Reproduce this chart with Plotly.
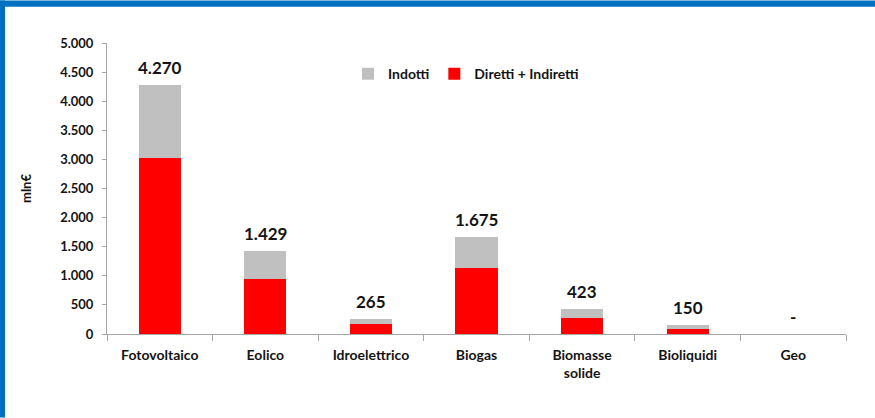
import plotly.graph_objects as go

# Occupazione per fonte rinnovabile (mln€)
categorie = ["Fotovoltaico", "Eolico", "Idroelettrico", "Biogas", "Biomasse<br>solide", "Bioliquidi", "Geo"]
diretti_indiretti = [3020, 945, 165, 1130, 280, 90, 0]
totali = [4270, 1429, 265, 1675, 423, 150, 0]
indotti = [t - d for t, d in zip(totali, diretti_indiretti)]
etichette = ["4.270", "1.429", "265", "1.675", "423", "150", "-"]
tick_valori = [0, 500, 1000, 1500, 2000, 2500, 3000, 3500, 4000, 4500, 5000]
tick_testi = ["0", "500", "1.000", "1.500", "2.000", "2.500", "3.000", "3.500", "4.000", "4.500", "5.000"]

FONT = "Lato"
TXT = "#141414"

fig = go.Figure()
fig.add_trace(go.Bar(x=categorie, y=diretti_indiretti, name="Diretti + Indiretti",
                     marker=dict(color="#ff0000", line=dict(width=0)), width=0.4))
fig.add_trace(go.Bar(x=categorie, y=indotti, name="Indotti",
                     marker=dict(color="#c0c0c0", line=dict(width=0)), width=0.4))

# Total labels above each stacked bar
annotations = [
    dict(x=c, y=t, text=e, xref="x", yref="y", showarrow=False,
         yanchor="bottom", yshift=5,
         font=dict(family=FONT, size=17, color=TXT, weight="bold"))
    for c, t, e in zip(categorie, totali, etichette)
]

# Pixel geometry of the plot area (left/right/top/bottom)
L, R, T, B = 107, 846, 42.7, 334.3
W, H = R - L, B - T

def px_x(x):
    return (x - L) / W

def px_y(y):
    return (B - y) / H

shapes = [
    dict(type="rect", xref="paper", yref="paper", x0=px_x(0), x1=px_x(5), y0=px_y(418), y1=px_y(0),
         fillcolor="#0070c0", line=dict(width=0), layer="above"),
    dict(type="rect", xref="paper", yref="paper", x0=px_x(0), x1=px_x(875), y0=px_y(6.5), y1=px_y(0),
         fillcolor="#0070c0", line=dict(width=0), layer="above"),
]

fig.update_layout(
    width=875, height=418,
    margin=dict(l=L, r=875 - R, t=T, b=418 - B),
    paper_bgcolor="white", plot_bgcolor="white",
    barmode="stack",
    bargap=0.6,
    font=dict(family=FONT, size=12, color=TXT),
    shapes=shapes,
    annotations=annotations,
    legend=dict(orientation="h", traceorder="reversed", x=px_x(348), y=px_y(74),
                xanchor="left", yanchor="middle",
                font=dict(family=FONT, size=14, color=TXT, weight="bold"),
                itemwidth=30, bgcolor="rgba(0,0,0,0)"),
    xaxis=dict(showline=True, linecolor="#a6a6a6", linewidth=1,
               ticks="outside", tickson="boundaries", ticklen=6, tickcolor="#a6a6a6",
               ticklabelstandoff=8,
               tickfont=dict(family=FONT, size=14, color=TXT, weight="bold"),
               showgrid=False, fixedrange=True),
    yaxis=dict(range=[0, 5000], tickvals=tick_valori, ticktext=tick_testi,
               showline=True, linecolor="#a6a6a6", linewidth=1,
               ticks="outside", ticklen=4, tickcolor="#a6a6a6",
               ticklabelstandoff=6,
               tickfont=dict(family=FONT, size=13, color=TXT, weight="bold"),
               showgrid=False, zeroline=False,
               title=dict(text="mln€", font=dict(family=FONT, size=13, color=TXT, weight="bold"), standoff=25)),
)

fig.write_html("out.html")
